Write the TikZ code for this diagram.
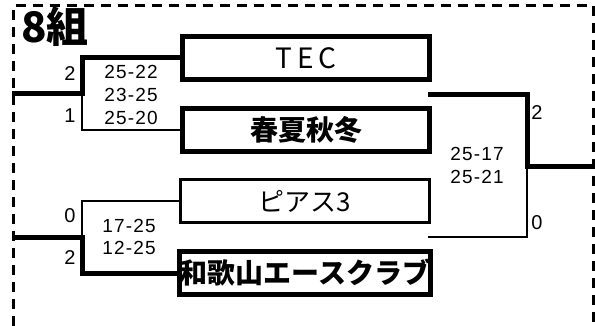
\documentclass[tikz,border=0pt]{standalone}
\usepackage{fontspec}
\setmainfont{Liberation Sans}
\newfontfamily\jpfont{Noto Sans CJK JP}
\usepackage{tikz}

\begin{document}
\begin{tikzpicture}[x=1pt,y=-1pt,
    winbox/.style={draw,line width=5pt,minimum width=247pt,minimum height=43pt,inner sep=0pt},
    losebox/.style={draw,line width=3pt,minimum width=249pt,minimum height=43pt,inner sep=0pt},
    winline/.style={line width=5pt},
    loseline/.style={line width=2.5pt},
    score/.style={font=\fontsize{19}{22}\selectfont\addfontfeature{LetterSpace=6},inner sep=0pt},
    setcount/.style={font=\fontsize{20}{22}\selectfont,inner sep=0pt}]
    \useasboundingbox (0,0) rectangle (595,326);
    \draw [line width=3pt, dash pattern=on 10pt off 7pt] (13,326) -- (13,5.5) -- (593,5.5) -- (593,326);
    \node [font=\jpfont\bfseries\fontsize{42}{44}\selectfont, inner sep=0pt] (group) at (55,27) {8組};

    % teams
    \node [winbox, font=\jpfont\fontsize{28}{30}\selectfont\addfontfeature{LetterSpace=16}] (tec) at (306,58) {TEC};
    \node [winbox, font=\jpfont\bfseries\fontsize{28}{30}\selectfont] (shunka) at (306,130) {春夏秋冬};
    \node [losebox, font=\jpfont\fontsize{26}{28}\selectfont] (piasu) at (305,201) {ピアス3};
    \node [winbox, font=\jpfont\bfseries\fontsize{28}{30}\selectfont] (wakayama) at (305,273) {和歌山エースクラブ};

    % first round
    \coordinate (in1) at (12,94);
    \coordinate (j1) at (82,94);
    \draw [winline] (in1) -- (j1) |- (tec.west);
    \draw [loseline] (j1) |- (shunka.west);
    \coordinate (in2) at (12,238);
    \coordinate (j2) at (82,238);
    \draw [winline] (in2) -- (j2) |- (wakayama.west);
    \draw [loseline] (j2) |- (piasu.west);

    % final
    \coordinate (top3) at (428,95);
    \coordinate (bot3) at (428,237);
    \coordinate (j3) at (527,167);
    \coordinate (out3) at (595,167);
    \draw [winline] (out3) -- (j3) |- (top3);
    \draw [loseline] (j3) |- (bot3);

    \node [setcount] (c1) at (70,74) {2};
    \node [setcount] (c2) at (70,116) {1};
    \node [setcount] (c3) at (70,216) {0};
    \node [setcount] (c4) at (70,258) {2};
    \node [setcount] (c5) at (537,113) {2};
    \node [setcount] (c6) at (537,223) {0};

    \node [score] (s1) at (131,72) {25-22};
    \node [score] (s2) at (131,95) {23-25};
    \node [score] (s3) at (131,118) {25-20};
    \node [score] (s4) at (129,226) {17-25};
    \node [score] (s5) at (129,248) {12-25};
    \node [score] (s6) at (477,154) {25-17};
    \node [score] (s7) at (477,177) {25-21};
\end{tikzpicture}
\end{document}
